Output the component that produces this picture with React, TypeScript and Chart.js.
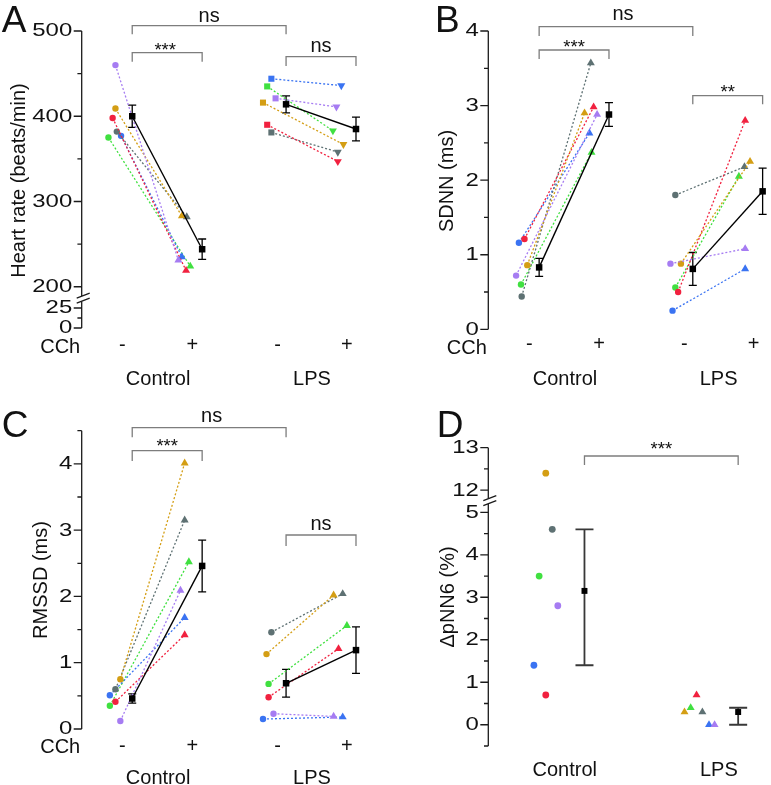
import { useEffect, useRef } from 'react';
import { Chart, registerables } from 'chart.js';

Chart.register(...registerables);

const FONT = '"Liberation Sans", Arimo, Arial, Helvetica, sans-serif';

// ---------------- data ----------------
// animal order: purple, gold, red, gray, blue, green
const animalColors = ['#A67CF2', '#D49E14', '#F1213F', '#5E7173', '#3A73F2', '#40E040'];

const cchLabels = ['-', '+', '-', '+'];
const groupLabels = ['Control', 'LPS'];

// A: Heart rate (beats/min)
const hrCtrlBase = [460, 409, 398, 382, 377, 375];
const hrCtrlCCh = [231, 283, 219, 282, 235, 224];
const hrLpsBase = [421, 416, 390, 381, 444, 435];
const hrLpsCCh = [411, 367, 347, 358, 436, 383];
const hrMean = [400, 244, 414, 385];
const hrSem = [13, 12, 10, 14];

// B: SDNN (ms)
const sdnnCtrlBase = [0.72, 0.86, 1.21, 0.44, 1.16, 0.6];
const sdnnCtrlCCh = [2.88, 2.9, 2.98, 3.57, 2.63, 2.37];
const sdnnLpsBase = [0.88, 0.88, 0.5, 1.8, 0.25, 0.56];
const sdnnLpsCCh = [1.08, 2.25, 2.8, 2.18, 0.81, 2.05];
const sdnnMean = [0.83, 2.88, 0.81, 1.85];
const sdnnSem = [0.12, 0.16, 0.22, 0.31];

// C: RMSSD (ms)
const rmssdCtrlBase = [0.12, 0.75, 0.41, 0.6, 0.51, 0.35];
const rmssdCtrlCCh = [2.09, 4.01, 1.42, 3.15, 1.68, 2.52];
const rmssdLpsBase = [0.23, 1.13, 0.48, 1.46, 0.15, 0.68];
const rmssdLpsCCh = [0.19, 2.02, 1.21, 2.04, 0.18, 1.56];
const rmssdMean = [0.46, 2.46, 0.69, 1.19];
const rmssdSem = [0.07, 0.39, 0.21, 0.35];

// D: ΔpNN6 (%)
const dpnnCtrl = [2.8, 12.4, 0.7, 4.6, 1.4, 3.5];
const dpnnLps = [0, 0.3, 0.7, 0.3, 0, 0.4];
const dpnnMean = [3.15, 0.3];
const dpnnLow = [1.4, 0];
const dpnnHigh = [4.6, 0.4];

// ---------------- layout (positions only) ----------------
const meanX = [0, 1, 2.2, 3.2];
const cchTickX = [-0.14, 0.86, 2.08, 3.07];
const groupX = [0.37, 2.57];
const dMeanX = [0.128, 1.125];

const jitA = {
  cb: [-0.24, -0.24, -0.28, -0.22, -0.16, -0.34],
  cc: [0.66, 0.71, 0.77, 0.78, 0.71, 0.83],
  lb: [2.05, 1.87, 1.93, 1.99, 1.99, 1.93],
  lc: [2.92, 3.02, 2.94, 2.94, 2.99, 2.87],
};
const jitB = {
  cb: [-0.33, -0.17, -0.21, -0.25, -0.29, -0.26],
  cc: [0.83, 0.65, 0.78, 0.74, 0.72, 0.75],
  lb: [1.88, 2.03, 1.99, 1.95, 1.91, 1.95],
  lc: [2.95, 3.02, 2.95, 2.94, 2.95, 2.86],
};
const jitC = {
  cb: [-0.17, -0.17, -0.24, -0.24, -0.32, -0.32],
  cc: [0.69, 0.75, 0.75, 0.75, 0.75, 0.81],
  lb: [2.02, 1.92, 1.95, 1.99, 1.87, 1.95],
  lc: [2.88, 2.88, 2.95, 3.01, 3.01, 3.07],
};
const jitD = {
  c: [-0.045, -0.123, -0.123, -0.081, -0.2, -0.166],
  l: [0.972, 0.777, 0.855, 0.893, 0.936, 0.817],
};

// broken-axis transforms
function axisA(v: number) {
  return v >= 100 ? v : 151.6 + v * 0.938;
}
function axisD(v: number) {
  return v >= 8 ? v - 6.48 : v;
}
function ident(v: number) {
  return v;
}

type Bracket = { x1: number; x2: number; y: number; drop: number; text: string; textY: number; size: number; dx?: number };
type Panel = {
  key: string;
  left: number; top: number; width: number; height: number;
  axisX: number; chartTop: number; xAxisHeight: number; xPad: number;
  xMin: number; xMax: number; yMin: number; yMax: number;
  toAxis: (v: number) => number;
  major: number[]; minor: number[]; breakAt?: number;
  xTickVals: number[]; xTickLabels: string[];
  letter: string; letterX: number; letterY: number;
  title: string; titleX: number; titleY: number;
  cchY?: number; groupY?: number;
  brackets: Bracket[];
  errors: { x: number; lo: number; hi: number }[];
  errColor: string; errWidth: number; capHalf: number;
  datasets: any[];
};

function pairSets(base: number[], cch: number[], xb: number[], xc: number[], toAxis: (v: number) => number, styles: string[], radii: number[], rot: number[]) {
  return base.map((b, i) => ({
    data: [
      { x: xb[i], y: toAxis(b) },
      { x: xc[i], y: toAxis(cch[i]) },
    ],
    borderColor: animalColors[i],
    backgroundColor: animalColors[i],
    borderWidth: 1.3,
    borderDash: [2, 2],
    pointStyle: styles,
    pointRadius: radii,
    pointHoverRadius: radii,
    pointRotation: rot,
    pointBackgroundColor: animalColors[i],
    pointBorderWidth: 0,
    clip: false,
    order: 2,
    tension: 0,
  }));
}

function meanSet(xs: number[], ys: number[], toAxis: (v: number) => number, showLine: boolean, r: number) {
  return {
    data: xs.map((x, i) => ({ x, y: toAxis(ys[i]) })),
    borderColor: '#000',
    backgroundColor: '#000',
    borderWidth: 1.4,
    showLine,
    pointStyle: 'rect',
    pointRadius: r,
    pointHoverRadius: r,
    pointBackgroundColor: '#000',
    pointBorderWidth: 0,
    clip: false,
    order: 0,
  };
}

function semErrors(mean: number[], sem: number[]) {
  return mean.map((m, i) => ({ x: meanX[i], lo: m - sem[i], hi: m + sem[i] }));
}

const panelA: Panel = {
  key: 'A', left: 0, top: 0, width: 385, height: 390,
  axisX: 81.7, chartTop: 31, xAxisHeight: 62, xPad: 5,
  xMin: -0.7225, xMax: 3.549, yMin: 151.6, yMax: 500, toAxis: axisA,
  major: [0, 25, 200, 300, 400, 500], minor: [12.5, 250, 350, 450], breakAt: 186,
  xTickVals: cchTickX, xTickLabels: cchLabels,
  letter: 'A', letterX: 1.7, letterY: 31.7,
  title: 'Heart rate (beats/min)', titleX: 19, titleY: 180.5,
  cchY: 353, groupY: 385,
  brackets: [
    { x1: 0, x2: 2.2, y: 25.7, drop: 8.6, text: 'ns', textY: 22, size: 20 },
    { x1: 0, x2: 1, y: 52.7, drop: 9, text: '***', textY: 55.8, size: 18.5, dx: -2 },
    { x1: 2.2, x2: 3.2, y: 56.7, drop: 9.3, text: 'ns', textY: 51.6, size: 20 },
  ],
  errors: semErrors(hrMean, hrSem), errColor: '#000', errWidth: 1.3, capHalf: 4,
  datasets: [
    meanSet([meanX[0], meanX[1]], [hrMean[0], hrMean[1]], axisA, true, 4.6),
    meanSet([meanX[2], meanX[3]], [hrMean[2], hrMean[3]], axisA, true, 4.6),
    ...pairSets(hrCtrlBase, hrCtrlCCh, jitA.cb, jitA.cc, axisA, ['circle', 'triangle'], [3.2, 4.6], [0, 0]),
    ...pairSets(hrLpsBase, hrLpsCCh, jitA.lb, jitA.lc, axisA, ['rect', 'triangle'], [4.3, 4.6], [0, 180]),
  ],
};

const panelB: Panel = {
  key: 'B', left: 385, top: 0, width: 386, height: 390,
  axisX: 103.3, chartTop: 31, xAxisHeight: 60.7, xPad: 3.6,
  xMin: -0.728, xMax: 3.254, yMin: 0, yMax: 4, toAxis: ident,
  major: [0, 1, 2, 3, 4], minor: [0.5, 1.5, 2.5, 3.5],
  xTickVals: cchTickX, xTickLabels: cchLabels,
  letter: 'B', letterX: 50, letterY: 31.7,
  title: 'SDNN (ms)', titleX: 62.5, titleY: 181,
  cchY: 354, groupY: 385,
  brackets: [
    { x1: 0, x2: 2.2, y: 26.7, drop: 9.3, text: 'ns', textY: 20, size: 20, dx: 7 },
    { x1: 0, x2: 1, y: 50, drop: 9, text: '***', textY: 52.5, size: 18.5 },
    { x1: 2.2, x2: 3.2, y: 95.7, drop: 8.6, text: '**', textY: 98, size: 18.5 },
  ],
  errors: semErrors(sdnnMean, sdnnSem), errColor: '#000', errWidth: 1.3, capHalf: 4,
  datasets: [
    meanSet([meanX[0], meanX[1]], [sdnnMean[0], sdnnMean[1]], ident, true, 4.6),
    meanSet([meanX[2], meanX[3]], [sdnnMean[2], sdnnMean[3]], ident, true, 4.6),
    ...pairSets(sdnnCtrlBase, sdnnCtrlCCh, jitB.cb, jitB.cc, ident, ['circle', 'triangle'], [3.2, 4.6], [0, 0]),
    ...pairSets(sdnnLpsBase, sdnnLpsCCh, jitB.lb, jitB.lc, ident, ['circle', 'triangle'], [3.2, 4.6], [0, 0]),
  ],
};

const panelC: Panel = {
  key: 'C', left: 0, top: 390, width: 385, height: 395,
  axisX: 81.7, chartTop: 40.7, xAxisHeight: 56, xPad: 5,
  xMin: -0.7225, xMax: 3.549, yMin: 0, yMax: 4.5, toAxis: ident,
  major: [0, 1, 2, 3, 4], minor: [0.5, 1.5, 2.5, 3.5, 4.5],
  xTickVals: cchTickX, xTickLabels: cchLabels,
  letter: 'C', letterX: 1.7, letterY: 46.7,
  title: 'RMSSD (ms)', titleX: 41.5, titleY: 190,
  cchY: 363.3, groupY: 394,
  brackets: [
    { x1: 0, x2: 2.2, y: 37.7, drop: 9.6, text: 'ns', textY: 32.2, size: 20, dx: 2.5 },
    { x1: 0, x2: 1, y: 60.7, drop: 10.3, text: '***', textY: 62.1, size: 18.5 },
    { x1: 2.2, x2: 3.2, y: 145, drop: 11, text: 'ns', textY: 140, size: 20 },
  ],
  errors: semErrors(rmssdMean, rmssdSem), errColor: '#000', errWidth: 1.3, capHalf: 4,
  datasets: [
    meanSet([meanX[0], meanX[1]], [rmssdMean[0], rmssdMean[1]], ident, true, 4.6),
    meanSet([meanX[2], meanX[3]], [rmssdMean[2], rmssdMean[3]], ident, true, 4.6),
    ...pairSets(rmssdCtrlBase, rmssdCtrlCCh, jitC.cb, jitC.cc, ident, ['circle', 'triangle'], [3.2, 4.6], [0, 0]),
    ...pairSets(rmssdLpsBase, rmssdLpsCCh, jitC.lb, jitC.lc, ident, ['circle', 'triangle'], [3.2, 4.6], [0, 0]),
  ],
};

const panelD: Panel = {
  key: 'D', left: 385, top: 390, width: 386, height: 395,
  axisX: 103.3, chartTop: 57.7, xAxisHeight: 39, xPad: 12,
  xMin: -0.4959, xMax: 1.3082, yMin: -0.5, yMax: 6.52, toAxis: axisD,
  major: [0, 1, 2, 3, 4, 5, 12, 13], minor: [-0.5, 0.5, 1.5, 2.5, 3.5, 4.5, 12.5], breakAt: 5.26,
  xTickVals: [0, 1], xTickLabels: groupLabels,
  letter: 'D', letterX: 51.7, letterY: 46.7,
  title: 'ΔpNN6 (%)', titleX: 63, titleY: 207,
  brackets: [{ x1: dMeanX[0], x2: dMeanX[1], y: 66, drop: 9, text: '***', textY: 64.8, size: 18.5 }],
  errors: dpnnMean.map((_m, i) => ({ x: dMeanX[i], lo: dpnnLow[i], hi: dpnnHigh[i] })),
  errColor: '#383838', errWidth: 1.8, capHalf: 9,
  datasets: [
    meanSet(dMeanX, dpnnMean, axisD, false, 4.2),
    ...dpnnCtrl.map((v, i) => ({
      data: [
        { x: jitD.c[i], y: axisD(v) },
        { x: jitD.l[i], y: axisD(dpnnLps[i]) },
      ],
      showLine: false,
      backgroundColor: animalColors[i],
      borderColor: animalColors[i],
      pointStyle: ['circle', 'triangle'],
      pointRadius: [3.4, 4.6],
      pointHoverRadius: [3.4, 4.6],
      pointBackgroundColor: animalColors[i],
      pointBorderWidth: 0,
      clip: false,
      order: 2,
    })),
  ],
};

const panels = [panelA, panelB, panelC, panelD];

// ---------------- drawing helpers ----------------
function drawErrors(chart: any, p: Panel) {
  const ctx: CanvasRenderingContext2D = chart.ctx;
  const xs = chart.scales.x;
  const ys = chart.scales.y;
  ctx.save();
  ctx.strokeStyle = p.errColor;
  ctx.lineWidth = p.errWidth;
  for (const e of p.errors) {
    const x = xs.getPixelForValue(e.x);
    const y1 = ys.getPixelForValue(p.toAxis(e.hi));
    const y2 = ys.getPixelForValue(p.toAxis(e.lo));
    ctx.beginPath();
    ctx.moveTo(x, y1);
    ctx.lineTo(x, y2);
    ctx.moveTo(x - p.capHalf, y1);
    ctx.lineTo(x + p.capHalf, y1);
    ctx.moveTo(x - p.capHalf, y2);
    ctx.lineTo(x + p.capHalf, y2);
    ctx.stroke();
  }
  ctx.restore();
}

function drawDecor(chart: any, p: Panel) {
  const ctx: CanvasRenderingContext2D = chart.ctx;
  const xs = chart.scales.x;
  const ys = chart.scales.y;
  const ca = chart.chartArea;
  const ax = ca.left;
  const py = (v: number) => ys.getPixelForValue(p.toAxis(v));
  const px = (v: number) => xs.getPixelForValue(v);
  ctx.save();

  // y axis line, break marks, tick marks
  ctx.strokeStyle = '#1b1b1b';
  ctx.lineWidth = 1.3;
  ctx.beginPath();
  if (p.breakAt !== undefined) {
    const yb = ys.getPixelForValue(p.breakAt);
    ctx.moveTo(ax, ca.top);
    ctx.lineTo(ax, yb - 2.5);
    ctx.moveTo(ax, yb + 2.5);
    ctx.lineTo(ax, ca.bottom);
    ctx.moveTo(ax - 5, yb - 0.6);
    ctx.lineTo(ax + 8, yb - 5.6);
    ctx.moveTo(ax - 5, yb + 4.4);
    ctx.lineTo(ax + 8, yb - 0.6);
  } else {
    ctx.moveTo(ax, ca.top);
    ctx.lineTo(ax, ca.bottom);
  }
  for (const v of p.major) {
    const y = py(v);
    ctx.moveTo(ax - 8, y);
    ctx.lineTo(ax, y);
  }
  for (const v of p.minor) {
    const y = py(v);
    ctx.moveTo(ax - 4.3, y);
    ctx.lineTo(ax, y);
  }
  ctx.stroke();

  // y tick labels
  ctx.fillStyle = '#111';
  ctx.font = `18px ${FONT}`;
  ctx.textAlign = 'right';
  ctx.textBaseline = 'middle';
  for (const v of p.major) {
    const y = py(v);
    ctx.save();
    ctx.translate(ax - 9.5, y + 0.5);
    ctx.scale(1.33, 1);
    ctx.fillText(String(v), 0, 0);
    ctx.restore();
  }

  // y title
  ctx.save();
  ctx.translate(p.titleX, p.titleY);
  ctx.rotate(-Math.PI / 2);
  ctx.font = `20px ${FONT}`;
  ctx.textAlign = 'center';
  ctx.textBaseline = 'middle';
  ctx.fillText(p.title, 0, 0);
  ctx.restore();

  // panel letter
  ctx.font = `37px ${FONT}`;
  ctx.textAlign = 'left';
  ctx.textBaseline = 'alphabetic';
  ctx.fillText(p.letter, p.letterX, p.letterY);

  // CCh and group labels
  ctx.font = `20px ${FONT}`;
  if (p.cchY !== undefined) {
    ctx.textAlign = 'right';
    ctx.fillText('CCh', ax - 1.5, p.cchY);
  }
  if (p.groupY !== undefined) {
    ctx.textAlign = 'center';
    groupLabels.forEach((g, i) => ctx.fillText(g, px(groupX[i]), p.groupY as number));
  }

  // significance brackets
  for (const b of p.brackets) {
    const x1 = px(b.x1);
    const x2 = px(b.x2);
    ctx.strokeStyle = '#7d7d7d';
    ctx.lineWidth = 1.3;
    ctx.beginPath();
    ctx.moveTo(x1, b.y + b.drop);
    ctx.lineTo(x1, b.y);
    ctx.lineTo(x2, b.y);
    ctx.lineTo(x2, b.y + b.drop);
    ctx.stroke();
    ctx.font = `${b.size}px ${FONT}`;
    ctx.textAlign = 'center';
    ctx.textBaseline = 'alphabetic';
    ctx.fillStyle = '#111';
    ctx.fillText(b.text, (x1 + x2) / 2 + (b.dx || 0), b.textY);
  }
  ctx.restore();
}

function makeConfig(p: Panel): any {
  return {
    type: 'line',
    data: { datasets: p.datasets },
    options: {
      responsive: false,
      animation: false,
      events: [],
      layout: { padding: { top: p.chartTop, left: 0, right: 0, bottom: 0 } },
      plugins: { legend: { display: false }, tooltip: { enabled: false } },
      scales: {
        x: {
          type: 'linear',
          min: p.xMin,
          max: p.xMax,
          bounds: 'data',
          grid: { display: false, drawTicks: false },
          border: { display: false },
          afterBuildTicks: (s: any) => {
            s.ticks = p.xTickVals.map((v) => ({ value: v }));
          },
          afterFit: (s: any) => {
            s.height = p.xAxisHeight;
          },
          ticks: {
            autoSkip: false,
            maxRotation: 0,
            minRotation: 0,
            padding: p.xPad,
            color: '#111',
            font: { family: FONT, size: 20 },
            callback: (_v: any, i: number) => p.xTickLabels[i],
          },
        },
        y: {
          type: 'linear',
          min: p.yMin,
          max: p.yMax,
          bounds: 'data',
          grid: { display: false, drawTicks: false },
          border: { display: false },
          ticks: { display: false },
          afterFit: (s: any) => {
            s.width = p.axisX;
          },
        },
      },
    },
    plugins: [
      {
        id: 'decor' + p.key,
        beforeDatasetsDraw: (c: any) => drawErrors(c, p),
        afterDraw: (c: any) => drawDecor(c, p),
      },
    ],
  };
}

function PanelChart({ p }: { p: Panel }) {
  const ref = useRef<HTMLCanvasElement>(null);
  useEffect(() => {
    const chart = new Chart(ref.current as HTMLCanvasElement, makeConfig(p));
    return () => chart.destroy();
  }, [p]);
  return (
    <canvas
      ref={ref}
      width={p.width}
      height={p.height}
      style={{ position: 'absolute', left: p.left, top: p.top, width: p.width, height: p.height }}
    />
  );
}

export default function App() {
  return (
    <div style={{ position: 'absolute', left: 0, top: 0, width: 771, height: 785, background: '#fff', overflow: 'hidden' }}>
      {panels.map((p) => (
        <PanelChart key={p.key} p={p} />
      ))}
    </div>
  );
}
